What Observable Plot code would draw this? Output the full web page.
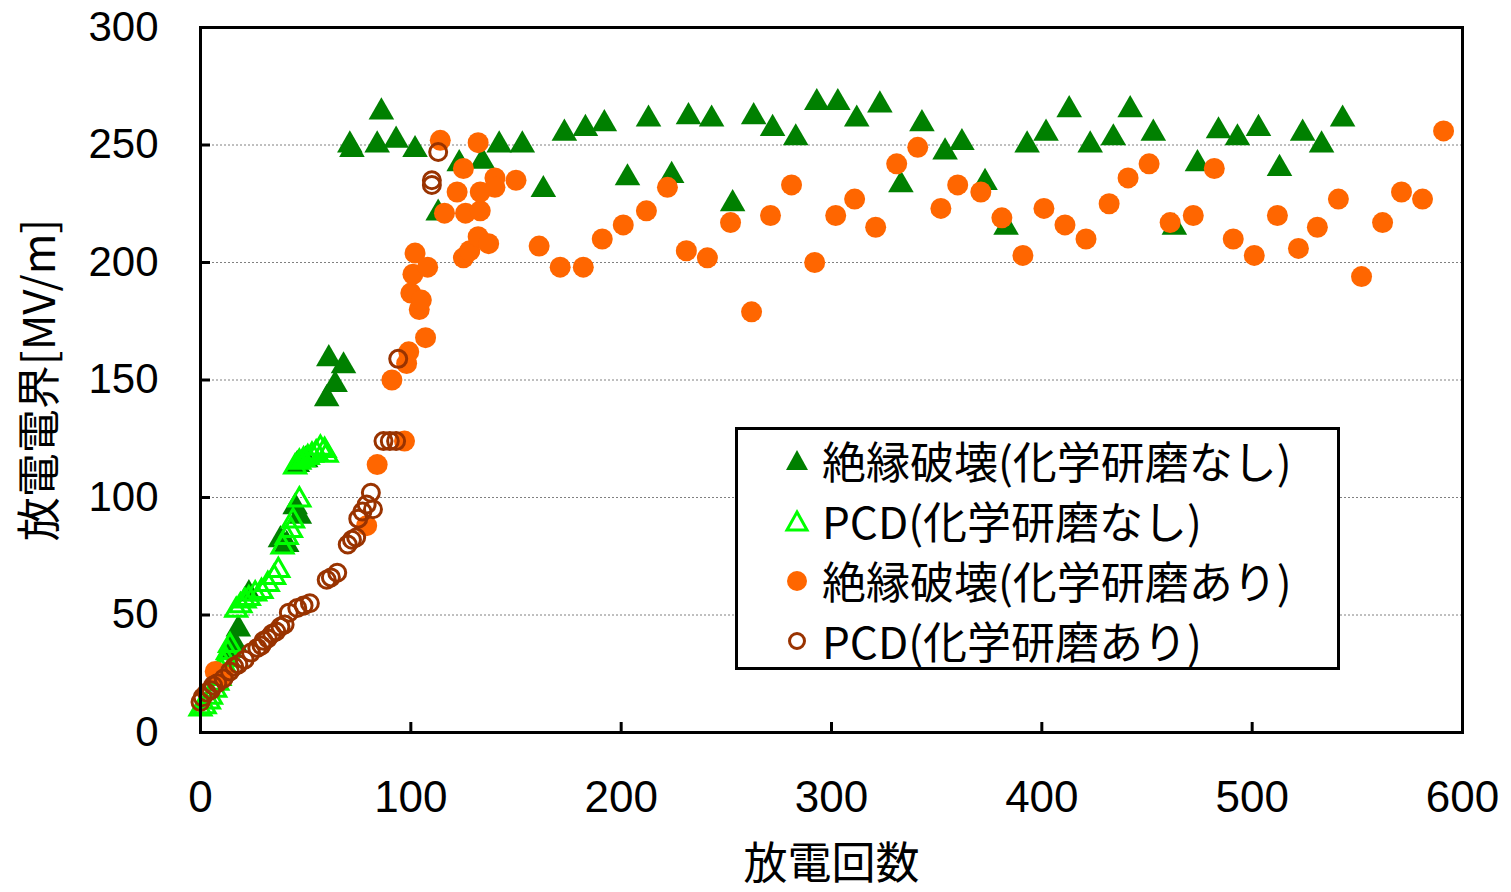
<!DOCTYPE html>
<html><head><meta charset="utf-8">
<script src="https://cdn.jsdelivr.net/npm/d3@7"></script>
<script src="https://cdn.jsdelivr.net/npm/@observablehq/plot@0.6"></script>
<style>
body{margin:0;background:#fff;}
#wrap{position:relative;width:1511px;height:892px;overflow:hidden;}
#legend{position:absolute;left:735px;top:427px;width:605px;height:243px;border:3px solid #000;background:#fff;box-sizing:border-box;font-family:"Noto Sans CJK JP","Noto Sans",sans-serif;font-size:44px;color:#000;}
.row{position:absolute;left:0;height:60px;line-height:60px;white-space:nowrap;}
.row svg{position:absolute;left:44px;top:15px;}
.row span{position:absolute;left:84px;top:-1px;}
</style>
</head><body>
<div id="wrap"><div id="chart"></div><div id="legend"></div></div>
<script>
const xTicks = [0,100,200,300,400,500,600];
const yTicks = [0,50,100,150,200,250,300];
const xLabel = "放電回数";
const yLabel = "放電電界[MV/m]";
const seriesNames = ["絶縁破壊(化学研磨なし)","PCD(化学研磨なし)","絶縁破壊(化学研磨あり)","PCD(化学研磨あり)"];

// 絶縁破壊(化学研磨なし) [回数, 電界]
const bdNoPolish = [[14,35],[16,38],[18,44],[23,59],[38,82],[41,80],[45,96],[47,92],[46,114],[50,116],[60,142],[61,159],[64,148],[68,156],
[71,250],[72,248],[84,250],[86,264],[93,252],[102,248],[113,221],[123,242],[134,243],[142,250],[153,250],[163,231],[173,255],[183,257],[192,259],[203,236],[213,261],[224,237],[232,262],[243,261],[253,225],[263,262],[272,257],[283,253],[293,268],[303,268],[312,261],[323,267],[333,233],[343,259],[354,247],[362,251],[373,234],[383,215],[393,250],[402,255],[413,265],[423,250],[434,253],[442,265],[453,255],[463,215],[474,242],[484,256],[493,253],[503,257],[513,240],[524,255],[533,250],[543,261]];

// PCD(化学研磨なし)
const pcdNoPolish = [[0,10],[2,11],[4,13],[5,15],[7,18],[8,21],[9,23],[10,26],[11,29],[12,31],[13,34],[14,37],[17,52],[19,54],[21,56],[23,57],[26,59],[29,60],[32,63],[35,66],[37,69],[39,79],[41,83],[43,86],[44,90],[47,99],[45,113],[47,115],[49,116],[51,117],[53,118],[55,119],[57,121],[59,120],[60,118]];

// 絶縁破壊(化学研磨あり)
const bdPolish = [[7,26],[11,24],[79,88],[84,114],[91,150],[97,124],[98,157],[99,162],[107,168],[100,187],[101,195],[104,180],[105,184],[102,204],[108,198],[114,252],[116,221],[122,230],[125,202],[126,221],[125,240],[128,205],[132,211],[132,251],[133,222],[133,230],[137,208],[140,236],[140,232],[150,235],[161,207],[171,198],[182,198],[191,210],[201,216],[212,222],[222,232],[231,205],[241,202],[252,217],[262,179],[271,220],[281,233],[292,200],[302,220],[311,227],[321,215],[331,242],[341,249],[352,223],[360,233],[371,230],[381,219],[391,203],[401,223],[411,216],[421,210],[432,225],[441,236],[451,242],[461,217],[472,220],[482,240],[491,210],[501,203],[512,220],[522,206],[531,215],[541,227],[552,194],[562,217],[571,230],[581,227],[591,256]];

// PCD(化学研磨あり)
const pcdPolish = [[0,13],[1,15],[3,17],[5,18],[6,20],[8,21],[11,23],[14,26],[16,28],[18,29],[21,31],[24,34],[27,36],[29,37],[30,39],[32,40],[34,42],[36,43],[38,45],[40,46],[42,51],[46,53],[49,54],[52,55],[60,65],[62,66],[65,68],[70,80],[72,82],[74,83],[75,91],[77,94],[79,97],[82,95],[81,102],[87,124],[90,124],[93,124],[94,159],[110,233],[110,235],[113,247]];

const colors = {bdNo:"#008000", pcdNo:"#00ff00", bdYes:"#ff6600", pcdYes:"#993300"};
const X = d => d[0], Y = d => d[1];

const chart = Plot.plot({
  width:1511, height:892,
  marginLeft:200, marginRight:49, marginTop:27, marginBottom:160,
  style:{fontFamily:"'Liberation Sans', Arial, sans-serif", background:"white", overflow:"visible", color:"black"},
  x:{domain:[0,600]},
  y:{domain:[0,300]},
  marks:[
    Plot.gridY(yTicks.filter(v => v > 0 && v < 300), {stroke:"#808080", strokeOpacity:1, strokeDasharray:"2,2", strokeWidth:1}),
    Plot.axisX(xTicks, {tickSize:0, tickPadding:48, fontSize:44, label:null}),
    Plot.axisY(yTicks, {tickSize:0, tickPadding:42, fontSize:42, label:null}),
    // inward tick marks (10px long)
    Plot.ruleX(xTicks, {x:d => d, y1:0, y2:0, insetTop:-10, insetBottom:0, stroke:"black", strokeWidth:3}),
    Plot.ruleY(yTicks, {y:d => d, x1:0, x2:0, insetRight:-10, insetLeft:0, stroke:"black", strokeWidth:3}),
    Plot.dot(bdNoPolish, {x:X, y:Y, symbol:"triangle", r:9.5, fill:colors.bdNo, stroke:"none"}),
    Plot.dot(pcdNoPolish, {x:X, y:Y, symbol:"triangle", r:7.8, fill:"none", stroke:colors.pcdNo, strokeWidth:3}),
    Plot.dot(bdPolish, {x:X, y:Y, r:10.5, fill:colors.bdYes, stroke:"none"}),
    Plot.dot(pcdPolish, {x:X, y:Y, r:8.5, fill:"none", stroke:colors.pcdYes, strokeWidth:3}),
    Plot.frame({stroke:"black", strokeWidth:3}),
    Plot.text([xLabel], {text:d => d, frameAnchor:"bottom", dy:146, fontSize:44, fontFamily:"'Noto Sans CJK JP', sans-serif", fill:"black"}),
    Plot.text([yLabel], {text:d => d, frameAnchor:"left", textAnchor:"middle", dx:-160, rotate:-90, fontSize:44, fontFamily:"'Noto Sans CJK JP', sans-serif", fill:"black"})
  ]
});
document.getElementById("chart").appendChild(chart);

// legend
const legend = document.getElementById("legend");
const markers = [
  '<svg width="30" height="30"><path d="M15,4 L26,24 L4,24 Z" fill="'+colors.bdNo+'"/></svg>',
  '<svg width="30" height="30"><path d="M15,6 L25,24 L5,24 Z" fill="none" stroke="'+colors.pcdNo+'" stroke-width="3"/></svg>',
  '<svg width="30" height="30"><circle cx="15" cy="15" r="10" fill="'+colors.bdYes+'"/></svg>',
  '<svg width="30" height="30"><circle cx="15" cy="15" r="7.5" fill="none" stroke="'+colors.pcdYes+'" stroke-width="3"/></svg>'
];
const centers = [461, 521, 581, 641];
seriesNames.forEach((name, i) => {
  const row = document.createElement("div");
  row.className = "row";
  row.style.top = (centers[i] - 427 - 3 - 30) + "px";
  row.innerHTML = markers[i] + '<span>' + name + '</span>';
  legend.appendChild(row);
});
</script>
</body></html>
